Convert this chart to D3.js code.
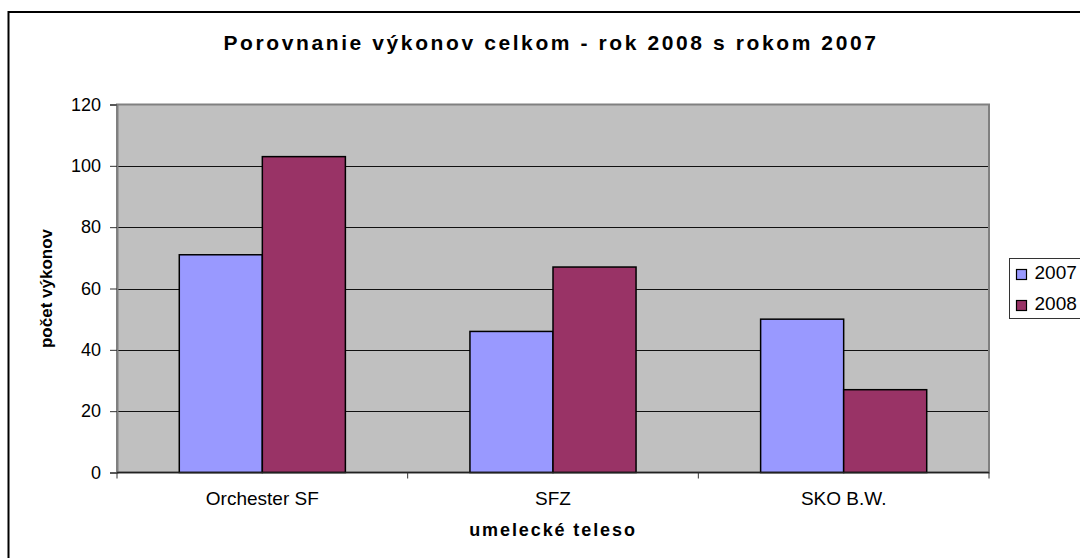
<!DOCTYPE html>
<html>
<head>
<meta charset="utf-8">
<script src="https://cdn.jsdelivr.net/npm/d3@7"></script>
<style>
  body { margin: 0; background: #fff; }
  text { font-family: Arial, "Liberation Sans", sans-serif; fill: #000; }
</style>
</head>
<body>
<div id="vis"></div>
<script>
// chart data
var categories = ['Orchester SF', 'SFZ', 'SKO B.W.'];
var seriesNames = ['2007', '2008'];
var values2007 = [71, 46, 50];
var values2008 = [103, 67, 27];
var yTicks = [0, 20, 40, 60, 80, 100, 120];
var seriesColors = ['#9999FF', '#993366'];

var svgWidth = 1080, svgHeight = 558;

var svg = d3.select('#vis').append('svg')
  .attr('width', svgWidth)
  .attr('height', svgHeight);

// outer chart frame (runs off the right and bottom edges)
svg.append('rect')
  .attr('x', 8.5).attr('y', 12)
  .attr('width', 1100).attr('height', 600)
  .attr('fill', 'white')
  .attr('stroke', 'black')
  .attr('stroke-width', 2);

// plot area
var plot = {left: 117, top: 104.5, right: 989, bottom: 472.5};

var yScale = d3.scaleLinear().domain([0, 120]).range([plot.bottom, plot.top]);

// excel style gap width 150%
var xScale = d3.scaleBand().domain(categories)
  .range([plot.left, plot.right])
  .paddingInner(1.5 / 3.5)
  .paddingOuter(0.75 / 3.5);

var xSub = d3.scaleBand().domain(seriesNames).range([0, xScale.bandwidth()]);

svg.append('rect')
  .attr('x', plot.left).attr('y', plot.top)
  .attr('width', plot.right - plot.left)
  .attr('height', plot.bottom - plot.top)
  .attr('fill', '#C0C0C0');

// gridlines
svg.selectAll('.grid')
  .data(yTicks.filter(function(d) { return d > 0 && d < 120; }))
  .enter().append('line')
  .attr('class', 'grid')
  .attr('x1', plot.left).attr('x2', plot.right)
  .attr('y1', function(d) { return Math.round(yScale(d)) + 0.5; })
  .attr('y2', function(d) { return Math.round(yScale(d)) + 0.5; })
  .attr('stroke', '#111')
  .attr('stroke-width', 1);

// plot border
svg.append('rect')
  .attr('x', plot.left).attr('y', plot.top)
  .attr('width', plot.right - plot.left)
  .attr('height', plot.bottom - plot.top)
  .attr('fill', 'none')
  .attr('stroke', '#808080')
  .attr('stroke-width', 2);

// bars
var rows = categories.map(function(c, i) {
  return {cat: c, vals: [values2007[i], values2008[i]]};
});

var groups = svg.selectAll('.group')
  .data(rows)
  .enter().append('g')
  .attr('class', 'group')
  .attr('transform', function(d) { return 'translate(' + xScale(d.cat) + ',0)'; });

groups.selectAll('rect')
  .data(function(d) {
    return d.vals.map(function(v, j) { return {name: seriesNames[j], value: v, idx: j}; });
  })
  .enter().append('rect')
  .attr('x', function(d) { return xSub(d.name); })
  .attr('y', function(d) { return yScale(d.value); })
  .attr('width', xSub.bandwidth())
  .attr('height', function(d) { return yScale(0) - yScale(d.value); })
  .attr('fill', function(d) { return seriesColors[d.idx]; })
  .attr('stroke', 'black')
  .attr('stroke-width', 1.5);

// y axis
var yAxis = svg.append('g')
  .attr('transform', 'translate(' + plot.left + ',0)')
  .call(d3.axisLeft(yScale).tickValues(yTicks).tickSize(7).tickPadding(9));
yAxis.select('.domain').attr('stroke', '#808080').attr('stroke-width', 2);
yAxis.selectAll('.tick line').attr('stroke', '#333');
yAxis.selectAll('text')
  .style('font-family', 'Arial, "Liberation Sans", sans-serif')
  .style('font-size', '18px')
  .attr('fill', '#000');

// x axis: ticks sit at category boundaries
var xAxis = svg.append('g')
  .attr('transform', 'translate(0,' + plot.bottom + ')');
xAxis.append('line')
  .attr('x1', plot.left).attr('x2', plot.right)
  .attr('stroke', '#222').attr('stroke-width', 1.5);
var bounds = d3.range(categories.length + 1).map(function(i) {
  return plot.left + i * xScale.step();
});
xAxis.selectAll('.xtick')
  .data(bounds)
  .enter().append('line')
  .attr('class', 'xtick')
  .attr('x1', function(d) { return d; }).attr('x2', function(d) { return d; })
  .attr('y1', 0).attr('y2', 6)
  .attr('stroke', '#333');
xAxis.selectAll('.xlabel')
  .data(categories)
  .enter().append('text')
  .attr('class', 'xlabel')
  .attr('x', function(d) { return xScale(d) + xScale.bandwidth() / 2; })
  .attr('y', 32)
  .attr('text-anchor', 'middle')
  .style('font-size', '19px')
  .text(function(d) { return d; });

// title
svg.append('text')
  .attr('x', 551).attr('y', 50)
  .attr('text-anchor', 'middle')
  .style('font-size', '21px')
  .style('font-weight', 'bold')
  .style('letter-spacing', '2.6px')
  .text('Porovnanie výkonov celkom - rok 2008 s rokom 2007');

// axis titles
svg.append('text')
  .attr('x', (plot.left + plot.right) / 2).attr('y', 536)
  .attr('text-anchor', 'middle')
  .style('font-size', '18px')
  .style('font-weight', 'bold')
  .style('letter-spacing', '1.9px')
  .text('umelecké teleso');

svg.append('text')
  .attr('transform', 'translate(52,' + (plot.top + plot.bottom) / 2 + ') rotate(-90)')
  .attr('text-anchor', 'middle')
  .style('font-size', '17px')
  .style('font-weight', 'bold')
  .text('počet výkonov');

// legend
var legend = svg.append('g').attr('transform', 'translate(1009.5,258.5)');
legend.append('rect')
  .attr('width', 100).attr('height', 60)
  .attr('fill', 'white')
  .attr('stroke', '#333')
  .attr('stroke-width', 1);
var item = legend.selectAll('.item')
  .data(seriesNames)
  .enter().append('g')
  .attr('class', 'item')
  .attr('transform', function(d, i) { return 'translate(0,' + (i * 31) + ')'; });
item.append('rect')
  .attr('x', 7).attr('y', 11)
  .attr('width', 10).attr('height', 10)
  .attr('fill', function(d, i) { return seriesColors[i]; })
  .attr('stroke', 'black')
  .attr('stroke-width', 1.2);
item.append('text')
  .attr('x', 25).attr('y', 20)
  .style('font-size', '19px')
  .text(function(d) { return d; });
</script>
</body>
</html>
